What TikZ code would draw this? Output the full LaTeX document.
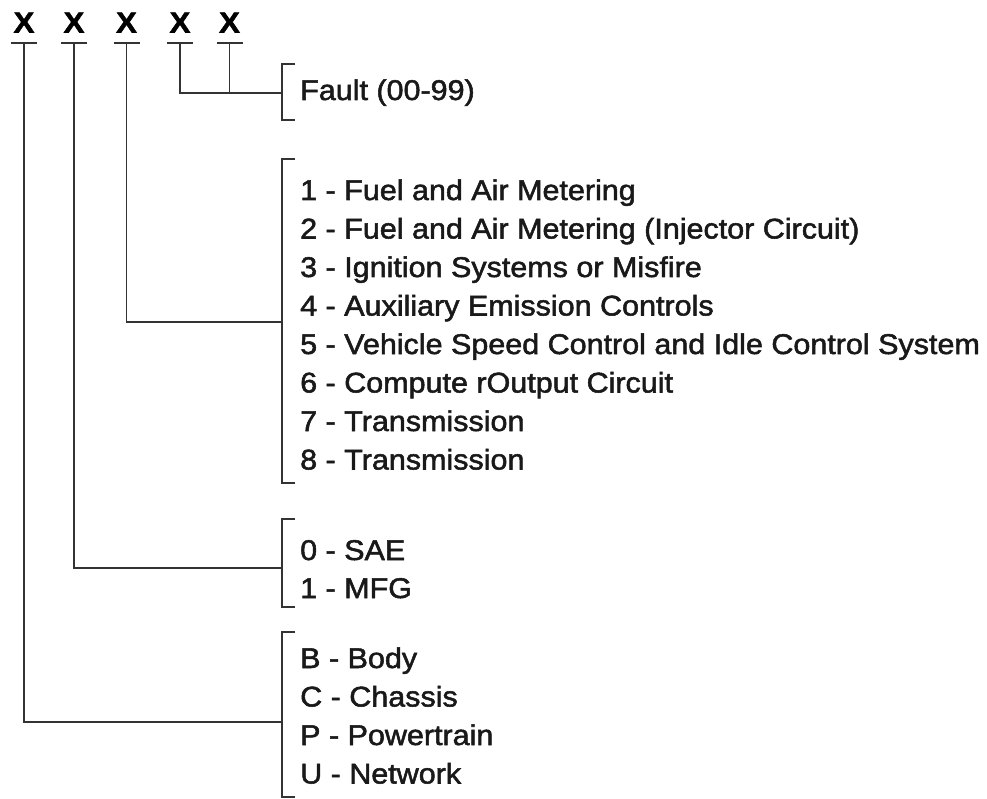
\documentclass[tikz,border=0pt]{standalone}
\usepackage{fontspec}
\setmainfont[FakeStretch=1.07,FakeBold=1.8]{Liberation Sans}
\usetikzlibrary{positioning,calc}

\begin{document}
\begin{tikzpicture}[x=1pt,y=-1pt,line cap=butt,
  every node/.style={inner sep=0pt},
  wire/.style={line width=1.7pt,black!80},
  digit/.style={font=\fontsize{29}{29}\selectfont\bfseries,anchor=base},
  entry/.style={font=\fontsize{28.5}{28.5}\selectfont,anchor=base west,text=black!90}]
  \useasboundingbox[fill=white] (0,0) rectangle (987,799);

  % code positions
  \foreach \n/\x in {1/24,2/74,3/126.5,4/180,5/229.5}{
    \node[digit] (d\n) at (\x,32.5) {X};
    \coordinate (t\n) at (\x,43);
    \draw[wire] ([xshift=-13pt]t\n) -- ([xshift=13pt]t\n);
  }

  % fault number
  \coordinate (fb) at (282,93);
  \draw[wire] (295,64) -| (282,120) -- (295,120);
  \draw[wire] (t4) |- (fb);
  \draw[wire] (t5) -- (t5 |- fb);
  \node[entry] (fault) at (300,100) {Fault (00-99)};

  % sub-system
  \coordinate (sb) at (282,322);
  \draw[wire] (295,159) -| (282,483) -- (295,483);
  \draw[wire] (t3) |- (sb);
  \foreach \i/\txt in {0/{1 - Fuel and Air Metering},
                       1/{2 - Fuel and Air Metering (Injector Circuit)},
                       2/{3 - Ignition Systems or Misfire},
                       3/{4 - Auxiliary Emission Controls},
                       4/{5 - Vehicle Speed Control and Idle Control System},
                       5/{6 - Compute rOutput Circuit},
                       6/{7 - Transmission},
                       7/{8 - Transmission}}
    \node[entry] (sub\i) at (300,200+38.5*\i) {\txt};

  % code origin
  \coordinate (ob) at (282,568);
  \draw[wire] (295,519) -| (282,607) -- (295,607);
  \draw[wire] (t2) |- (ob);
  \node[entry] (sae) at (300,560) {0 - SAE};
  \node[entry] (mfg) at (300,598) {1 - MFG};

  % system
  \coordinate (yb) at (282,722);
  \draw[wire] (295,632) -| (282,797) -- (295,797);
  \draw[wire] (t1) |- (yb);
  \foreach \i/\txt in {0/B - Body,1/C - Chassis,2/P - Powertrain,3/U - Network}
    \node[entry] (sys\i) at (300,668+38.5*\i) {\txt};
\end{tikzpicture}
\end{document}
